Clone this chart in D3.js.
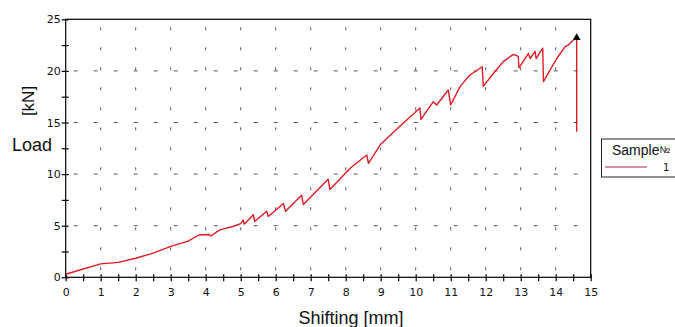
<!DOCTYPE html>
<html><head><meta charset="utf-8">
<script src="https://cdn.jsdelivr.net/npm/d3@7/dist/d3.min.js"></script>
<style>body{margin:0;background:#fff;overflow:hidden}</style>
</head><body>
<svg id="c" width="675" height="327"></svg>
<script>
const shifting = [0,0.5,1,1.5,2,2.5,3,3.5,3.8,4.1,4.15,4.4,4.8,5.0,5.07,5.1,5.36,5.4,5.74,5.79,6.22,6.28,6.74,6.79,7.5,7.55,8.12,8.6,8.65,9,9.5,10.12,10.15,10.5,10.6,10.93,11.0,11.27,11.55,11.9,11.93,12.22,12.5,12.79,12.93,12.95,13.07,13.22,13.27,13.41,13.44,13.63,13.65,13.84,14.03,14.27,14.36,14.6,14.6];
const load = [0.3,0.8,1.3,1.45,1.85,2.35,3.0,3.5,4.1,4.15,4.0,4.6,4.95,5.2,5.55,5.15,6.05,5.4,6.4,5.9,7.15,6.4,7.95,7.05,9.5,8.5,10.55,11.85,11.05,12.9,14.5,16.4,15.3,17.0,16.7,18.15,16.7,18.5,19.6,20.4,18.5,19.75,20.9,21.6,21.4,20.3,20.9,21.7,21.2,21.9,21.2,22.2,18.95,20.1,21.2,22.35,22.5,23.3,14.1];
const xTicks = [0,1,2,3,4,5,6,7,8,9,10,11,12,13,14,15];
const yTicks = [0,5,10,15,20,25];
const seriesName = "1";

const svg = d3.select("#c");
const L = 65.7, R = 590.7, T = 19.3, B = 277.3;
const x = d3.scaleLinear().domain([0,15]).range([L,R]);
const y = d3.scaleLinear().domain([0,25]).range([B,T]);

// grid
const g = svg.append("g");
g.selectAll(".vg").data(xTicks.slice(1,-1)).enter().append("line")
  .attr("x1",d=>x(d)).attr("x2",d=>x(d)).attr("y1",T).attr("y2",B)
  .attr("stroke","#555").attr("stroke-width",1).attr("stroke-dasharray","3,17").attr("stroke-dashoffset",-8);
g.selectAll(".hg").data(yTicks.slice(1,-1)).enter().append("line")
  .attr("y1",d=>y(d)).attr("y2",d=>y(d)).attr("x1",L).attr("x2",R)
  .attr("stroke","#555").attr("stroke-width",1).attr("stroke-dasharray","4,16").attr("stroke-dashoffset",-8);

// frame
svg.append("rect").attr("x",L).attr("y",T).attr("width",R-L).attr("height",B-T)
  .attr("fill","none").attr("stroke","#000").attr("stroke-width",1.2);

// axes
const xa = svg.append("g").attr("transform",`translate(0,${B})`)
  .call(d3.axisBottom(x).tickValues(d3.range(0,15.01,0.5)).tickSize(4).tickFormat(d=>Number.isInteger(d)?d:""));
xa.select(".domain").remove();
xa.selectAll(".tick line").attr("y1",-3).attr("y2",4).attr("stroke-width",1.2);
xa.selectAll("text").attr("font-family","DejaVu Sans, Verdana").attr("font-size",11).attr("dy","1.1em").attr("fill","#111");

const ya = svg.append("g").attr("transform",`translate(${L},0)`)
  .call(d3.axisLeft(y).tickValues(d3.range(0,25.01,2.5)).tickSize(4).tickFormat(d=>Number.isInteger(d)?d:""));
ya.select(".domain").remove();
ya.selectAll(".tick line").attr("x1",3).attr("x2",-4).attr("stroke-width",1.2);
ya.selectAll("text").attr("font-family","DejaVu Sans, Verdana").attr("font-size",11).attr("x",-5).attr("fill","#111");

// curve
const pts = shifting.map((s,i)=>[s,load[i]]);
svg.append("path").datum(pts)
  .attr("d", d3.line().x(d=>x(d[0])).y(d=>y(d[1])))
  .attr("fill","none").attr("stroke","#dd1c24").attr("stroke-width",1.4).attr("stroke-linejoin","round");

// peak marker
let pi = d3.maxIndex(load);
svg.append("path").attr("d", d3.symbol(d3.symbolTriangle, 26)())
  .attr("transform",`translate(${x(shifting[pi])},${y(load[pi])+1})`).attr("fill","#000");

// axis titles
svg.append("text").attr("x",351).attr("y",324).attr("text-anchor","middle")
  .attr("font-family","Liberation Sans, Arial").attr("font-size",18).attr("fill","#111").text("Shifting [mm]");
svg.append("text").attr("x",32).attr("y",151).attr("text-anchor","middle")
  .attr("font-family","Liberation Sans, Arial").attr("font-size",18).attr("fill","#111").text("Load");
svg.append("text").attr("transform","translate(34,101) rotate(-90)").attr("text-anchor","middle")
  .attr("font-family","Liberation Sans, Arial").attr("font-size",17).attr("fill","#111").text("[kN]");

// legend
svg.append("rect").attr("x",601.5).attr("y",139).attr("width",90).attr("height",38)
  .attr("fill","#fff").attr("stroke","#222").attr("stroke-width",1);
const lt = svg.append("text").attr("x",612).attr("y",155).attr("font-family","Liberation Sans, Arial").attr("font-size",14).attr("fill","#111");
lt.append("tspan").text("Sample");
lt.append("tspan").attr("font-size",10).attr("dy",-2).text("№");
svg.append("line").attr("x1",605).attr("x2",647).attr("y1",167).attr("y2",167).attr("stroke","#b02048").attr("stroke-width",1.2);
svg.append("text").attr("x",663).attr("y",171).attr("font-family","DejaVu Sans, Verdana").attr("font-size",10).attr("fill","#111").text(seriesName);
</script>
</body></html>
